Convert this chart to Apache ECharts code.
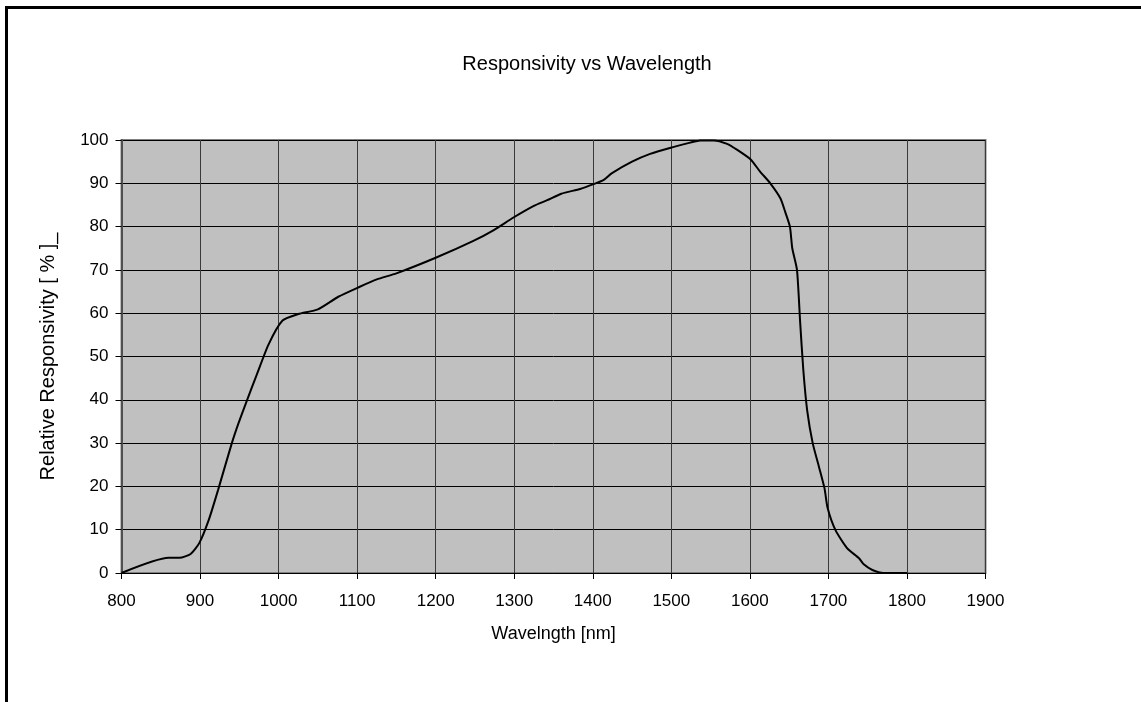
<!DOCTYPE html>
<html>
<head>
<meta charset="utf-8">
<style>
  html, body { margin: 0; padding: 0; background: #fff; }
  #chart { width: 1141px; height: 702px; }
</style>
<script src="https://cdn.jsdelivr.net/npm/echarts@6/dist/echarts.min.js"></script>
</head>
<body>
<div id="chart"></div>
<script>
// wavelength [nm]
let wavelengths = [800, 860, 874, 888, 899, 911, 923, 940, 949, 960, 972, 987, 1005, 1025, 1050,
  1076, 1102, 1125, 1150, 1200, 1248, 1274, 1299, 1325, 1342, 1360, 1384, 1401, 1414, 1424,
  1450, 1473, 1501, 1524, 1537, 1554, 1571, 1584, 1601, 1613, 1626, 1639, 1645, 1651, 1654,
  1660, 1664, 1668, 1673, 1680, 1688, 1695, 1699, 1709, 1724, 1739, 1745, 1756, 1770, 1800]
// relative responsivity [%]
let responsivity = [0, 3.5, 3.5, 4.4, 6.9, 12.2, 19.2, 29.7, 34.6, 40, 45.7, 52.7, 58.3, 59.8, 60.9,
  63.8, 66, 67.8, 69.2, 72.8, 76.7, 79.2, 82.1, 84.8, 86.1, 87.6, 88.7, 89.8, 90.8, 92.3,
  95, 96.8, 98.3, 99.4, 99.9, 99.9, 99.1, 97.7, 95.5, 92.7, 90, 86.5, 83.4, 80, 75,
  70, 58, 47, 37.5, 30, 24.5, 19.6, 15, 9.9, 5.7, 3.4, 2, 0.7, 0, 0]

let myChart = echarts.init(document.getElementById('chart'))
let fontName = 'Liberation Sans, Arial, sans-serif'

let seriesData = wavelengths.map((w, i) => [w, responsivity[i]])

let option = {
  animation: false,
  backgroundColor: '#fff',
  title: {
    text: 'Responsivity vs Wavelength',
    left: 582,
    top: 49,
    textAlign: 'center',
    textStyle: { fontFamily: fontName, fontSize: 20, fontWeight: 'normal', color: '#000' }
  },
  graphic: [
    // outer frame (top + left only)
    { type: 'rect', shape: { x: 5, y: 6, width: 1136, height: 3 }, style: { fill: '#000' } },
    { type: 'rect', shape: { x: 5, y: 6, width: 3, height: 696 }, style: { fill: '#000' } }
  ],
  grid: {
    left: 121.5,
    right: 155.5,
    top: 140,
    bottom: 129,
    show: true,
    backgroundColor: '#c0c0c0',
    borderColor: '#808080',
    borderWidth: 2
  },
  xAxis: {
    type: 'value',
    min: 800,
    max: 1900,
    interval: 100,
    name: 'Wavelngth [nm]',
    nameLocation: 'middle',
    nameGap: 52,
    nameTextStyle: { fontFamily: fontName, fontSize: 18, color: '#000' },
    axisLine: { show: true, lineStyle: { color: '#000', width: 1 } },
    axisTick: { show: true, inside: false, length: 6, lineStyle: { color: '#000' } },
    axisLabel: {
      fontFamily: fontName, fontSize: 17, color: '#000', margin: 20,
      formatter: v => String(v)
    },
    splitLine: { show: true, lineStyle: { color: '#3a3a3a', width: 1 } }
  },
  yAxis: {
    type: 'value',
    min: 0,
    max: 100,
    interval: 10,
    name: 'Relative Responsivity [ % ]_',
    nameLocation: 'middle',
    nameGap: 63,
    nameTextStyle: { fontFamily: fontName, fontSize: 20, color: '#000' },
    axisLine: { show: true, lineStyle: { color: '#505050', width: 2 } },
    axisTick: { show: true, inside: false, length: 6, lineStyle: { color: '#000' } },
    axisLabel: { fontFamily: fontName, fontSize: 17, color: '#000', margin: 13 },
    splitLine: { show: true, lineStyle: { color: '#000', width: 1 } }
  },
  series: [
    {
      type: 'line',
      data: seriesData,
      showSymbol: false,
      smooth: 0.2,
      lineStyle: { color: '#000', width: 2 }
    }
  ]
}
myChart.setOption(option)
</script>
</body>
</html>
